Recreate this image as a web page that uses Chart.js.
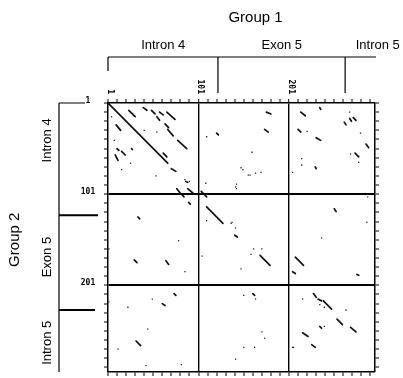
<!DOCTYPE html>
<html>
<head>
<meta charset="utf-8">
<script src="https://cdn.jsdelivr.net/npm/chart.js@4/dist/chart.umd.min.js"></script>
<style>
  html, body { margin: 0; padding: 0; background: #fff; }
</style>
</head>
<body>
<canvas id="dotplot" width="403" height="378"></canvas>
<script>
// sequence positions, same range on both axes
const seqMin = 1;
const seqMax = 296;
const tickStep = 10;
const tickLabels = ['1', '101', '201'];
const dividersX = [101, 201];
const dividersY = [101, 201];

// region brackets
const regionNames = ['Intron 4', 'Exon 5', 'Intron 5'];
const regionBoundsX = [122.5, 263];
const regionBoundsY = [124, 228];
const regionLabelX = [62, 193, 299];
const regionLabelY = [42, 170, 264];

// diagonal match runs (start x, start y, end x, end y)
const segX0 = [1, 24, 40, 49, 58, 66, 55, 64, 10, 67, 78, 11, 16, 27, 9, 62, 71, 87, 77, 81, 89, 90, 104, 110, 141, 169,
  34, 30, 65, 251, 208, 205, 276, 176, 174, 214, 235, 211, 231, 262, 268, 272, 286, 274, 230, 121,
  228, 233, 239, 254, 269, 235, 216, 226, 161, 74, 61, 32];
const segY0 = [1, 9, 6, 9, 11, 11, 16, 24, 25, 30, 42, 51, 54, 51, 58, 56, 73, 87, 95, 100, 95, 110, 98, 115, 146, 168,
  126, 173, 174, 117, 170, 186, 189, 11, 30, 11, 6, 30, 39, 22, 18, 17, 46, 56, 71, 34,
  210, 216, 218, 238, 247, 246, 253, 266, 210, 210, 221, 262];
const segX1 = [67, 31, 44, 53, 62, 75, 58, 68, 15, 73, 88, 13, 20, 28, 12, 66, 76, 89, 81, 85, 95, 92, 110, 128, 144, 180,
  36, 33, 68, 253, 217, 208, 278, 181, 178, 219, 236, 214, 236, 264, 270, 275, 289, 278, 231, 123,
  231, 237, 248, 260, 275, 237, 222, 230, 163, 76, 64, 37];
const segY1 = [67, 16, 9, 13, 14, 19, 20, 28, 31, 37, 51, 53, 58, 52, 64, 60, 76, 88, 100, 104, 100, 112, 104, 133, 148, 179,
  128, 176, 178, 120, 179, 188, 190, 13, 33, 15, 8, 33, 42, 25, 21, 20, 50, 60, 73, 36,
  214, 218, 227, 244, 252, 248, 257, 269, 212, 212, 223, 267];

// single matches
const dotX = [5, 8, 26, 16, 41, 55, 54, 86, 91, 110, 109, 160, 148, 156, 170, 142, 143, 143, 158, 164, 150, 205, 215, 215, 221,
  268, 280, 269, 278, 110, 137, 79, 105, 159, 148, 86, 287, 237, 138, 142, 162, 171, 288,
  216, 235, 240, 264, 240, 206, 151, 164, 171, 174, 151, 163, 142, 205, 50, 23, 2, 45, 12, 82, 43, 2];
const dotY = [16, 42, 67, 74, 31, 33, 81, 85, 87, 38, 89, 55, 72, 80, 77, 93, 95, 90, 80, 78, 74, 77, 62, 69, 32,
  11, 34, 57, 66, 130, 133, 152, 169, 167, 183, 186, 132, 149, 132, 138, 161, 161, 104,
  216, 222, 225, 228, 246, 269, 212, 216, 252, 259, 269, 269, 282, 269, 216, 225, 219, 249, 271, 288, 289, 161];

const tickValues = [];
for (let v = seqMin; v <= seqMax; v += tickStep) tickValues.push(v);

const segmentSets = segX0.map((x0, i) => ({
  data: [{ x: x0, y: segY0[i] }, { x: segX1[i], y: segY1[i] }],
  showLine: true,
  borderColor: '#111',
  borderWidth: 1.7,
  borderCapStyle: 'round',
  pointRadius: 0,
  order: 1
}));

const dotSet = {
  data: dotX.map((x, i) => ({ x: x, y: dotY[i] })),
  pointStyle: 'rect',
  pointRadius: 0.9,
  backgroundColor: '#222',
  borderWidth: 0,
  order: 2
};

function fixTicks(scale) {
  scale.ticks = tickValues.map(v => ({ value: v }));
}

function axisGrid(dividers, width, onArea) {
  return {
    drawOnChartArea: onArea,
    color: ctx => dividers.includes(ctx.tick && ctx.tick.value) ? '#000' : 'rgba(0,0,0,0)',
    lineWidth: ctx => dividers.includes(ctx.tick && ctx.tick.value) ? width : 0,
    tickColor: '#000',
    tickWidth: 1,
    tickLength: 4
  };
}

const bracketPlugin = {
  id: 'brackets',
  afterDraw(chart) {
    const ctx = chart.ctx;
    const xs = chart.scales.x;
    const ys = chart.scales.y;
    const top = chart.chartArea.top;
    const left = chart.chartArea.left;
    ctx.save();
    ctx.strokeStyle = '#000';
    ctx.fillStyle = '#000';

    // top bracket
    ctx.lineWidth = 1.2;
    ctx.beginPath();
    ctx.moveTo(xs.getPixelForValue(seqMin), 57);
    ctx.lineTo(xs.getPixelForValue(seqMax) + 1, 57);
    ctx.moveTo(xs.getPixelForValue(seqMin), 57);
    ctx.lineTo(xs.getPixelForValue(seqMin), 71);
    regionBoundsX.forEach(b => {
      ctx.moveTo(xs.getPixelForValue(b), 57);
      ctx.lineTo(xs.getPixelForValue(b), 93);
    });
    ctx.stroke();

    // left bracket
    const bx = 59;
    ctx.beginPath();
    ctx.moveTo(bx, ys.getPixelForValue(seqMin));
    ctx.lineTo(bx, ys.getPixelForValue(seqMax));
    ctx.moveTo(bx, ys.getPixelForValue(seqMin));
    ctx.lineTo(85, ys.getPixelForValue(seqMin));
    ctx.stroke();
    ctx.lineWidth = 2;
    ctx.beginPath();
    ctx.moveTo(bx, ys.getPixelForValue(regionBoundsY[0]));
    ctx.lineTo(98, ys.getPixelForValue(regionBoundsY[0]));
    ctx.moveTo(bx, ys.getPixelForValue(regionBoundsY[1]));
    ctx.lineTo(95, ys.getPixelForValue(regionBoundsY[1]));
    ctx.stroke();

    // group titles
    ctx.font = '15px "Liberation Sans", Arial, sans-serif';
    ctx.textAlign = 'center';
    ctx.textBaseline = 'middle';
    ctx.fillText('Group 1', (xs.left + xs.right) / 2 + 14, 18);
    ctx.save();
    ctx.translate(15, ys.getPixelForValue(151));
    ctx.rotate(-Math.PI / 2);
    ctx.fillText('Group 2', 0, 0);
    ctx.restore();

    // region names
    ctx.font = '13px "Liberation Sans", Arial, sans-serif';
    regionNames.forEach((name, i) => {
      ctx.fillText(name, xs.getPixelForValue(regionLabelX[i]), 45);
      ctx.save();
      ctx.translate(47, ys.getPixelForValue(regionLabelY[i]));
      ctx.rotate(-Math.PI / 2);
      ctx.fillText(name, 0, 0);
      ctx.restore();
    });

    // position labels
    ctx.font = 'bold 8px "DejaVu Sans Mono", monospace';
    tickLabels.forEach(t => {
      const v = Number(t);
      ctx.save();
      ctx.translate(xs.getPixelForValue(v) + 2, top - 9);
      ctx.rotate(Math.PI / 2);
      ctx.textAlign = 'right';
      ctx.fillText(t, 0, 0);
      ctx.restore();
      ctx.textAlign = 'center';
      ctx.fillText(t, 88, ys.getPixelForValue(v) - 2);
    });
    ctx.restore();
  }
};

new Chart(document.getElementById('dotplot'), {
  type: 'scatter',
  data: { datasets: [...segmentSets, dotSet] },
  options: {
    responsive: false,
    animation: false,
    layout: { padding: 0 },
    plugins: { legend: { display: false }, tooltip: { enabled: false } },
    scales: {
      x: {
        type: 'linear', position: 'top', min: seqMin, max: seqMax,
        afterBuildTicks: fixTicks,
        afterFit: s => { s.height = 103; },
        ticks: { display: false },
        grid: axisGrid(dividersX, 1.4, true),
        border: { display: true, color: '#000', width: 1.5 }
      },
      x2: {
        type: 'linear', position: 'bottom', min: seqMin, max: seqMax,
        afterBuildTicks: fixTicks,
        afterFit: s => { s.height = 6; },
        ticks: { display: false },
        grid: axisGrid([], 0, false),
        border: { display: true, color: '#000', width: 1.5 }
      },
      y: {
        type: 'linear', position: 'left', reverse: true, min: seqMin, max: seqMax,
        afterBuildTicks: fixTicks,
        afterFit: s => { s.width = 108; },
        ticks: { display: false },
        grid: axisGrid(dividersY, 2, true),
        border: { display: true, color: '#000', width: 1.5 }
      },
      y2: {
        type: 'linear', position: 'right', reverse: true, min: seqMin, max: seqMax,
        afterBuildTicks: fixTicks,
        afterFit: s => { s.width = 28; },
        ticks: { display: false },
        grid: axisGrid([], 0, false),
        border: { display: true, color: '#000', width: 1.5 }
      }
    }
  },
  plugins: [bracketPlugin]
});
</script>
</body>
</html>
